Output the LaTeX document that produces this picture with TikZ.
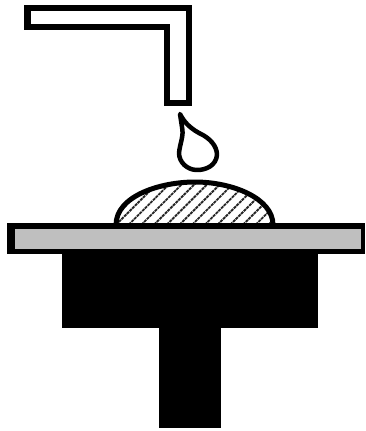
\documentclass[tikz,border=0pt]{standalone}
\tikzset{
  solidpart/.style={fill=black,draw=none},
  hatchline/.style={draw=black!85,line width=1.9pt,dash pattern=on 3pt off 0.8pt},
}
\begin{document}
\begin{tikzpicture}[x=1pt,y=-1pt]
\useasboundingbox (0,0) rectangle (365,431);
% nozzle
\draw[draw=black,line width=6.5pt,miter limit=10,fill=white]
  (27.5,8) -- (189,8) -- (189,103) -- (167,103) -- (167,27) -- (27.5,27) -- cycle;
% drop
\draw[draw=black,line width=4.5pt,line join=round,fill=white]
  (180,114) .. controls (184,122) and (190,128) .. (199,133)
  .. controls (210,138) and (217,146) .. (217,155)
  .. controls (216,165) and (207,170) .. (197,170)
  .. controls (187,170) and (179,162) .. (179,153)
  .. controls (180,143) and (184,136) .. (182,127)
  -- cycle;
% dome hatching
\begin{scope}
  \clip (116,225) .. controls (116,196) and (160,182) .. (195,182)
        .. controls (232,182) and (273,198) .. (273,225) -- cycle;
  \foreach \k in {0,...,24}
    \draw[hatchline] ({98+12.7*\k},230) -- ({98+12.7*\k+52},178);
\end{scope}
\draw[draw=black,line width=5pt]
  (116,225) .. controls (116,196) and (160,182) .. (195,182)
        .. controls (232,182) and (273,198) .. (273,225);
% platform
\fill[solidpart] (6.5,222.7) rectangle (365,254);
\fill[fill=black!25] (14.5,229) rectangle (361,248.5);
% base and stem
\fill[solidpart] (62,254) rectangle (317.5,328);
\fill[solidpart] (158.5,328) rectangle (220.5,428);
\end{tikzpicture}
\end{document}
